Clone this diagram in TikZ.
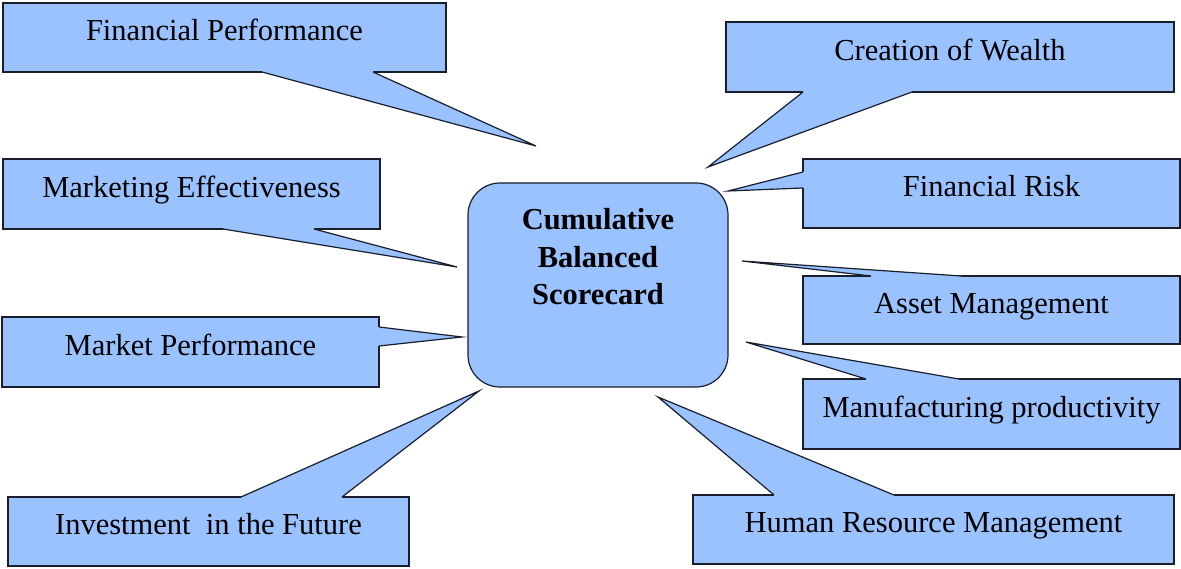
\documentclass[tikz,border=0pt]{standalone}
\usepackage{fontspec}
\setmainfont{Liberation Serif}
\usetikzlibrary{calc}
\definecolor{callblue}{RGB}{153,194,255}
\definecolor{callink}{RGB}{25,30,45}
\tikzset{
	callbox/.style={draw=callink, fill=callblue, line width=1.2pt, inner sep=0pt,
		text height=21.5pt, text depth=15pt, font=\fontsize{30.5}{37.5}\selectfont},
	hubbox/.style={draw=callink, fill=callblue, line width=1.2pt, rounded corners=32pt,
		minimum width=260pt, minimum height=204pt},
	hubtext/.style={align=center, font=\fontsize{30.5}{37.5}\selectfont\bfseries},
	callline/.style={draw=callink, line width=1.2pt, line join=miter},
}
% pointer of a callout: base point, tip, base point, shift into the box
\newcommand{\callptr}[4]{%
	\fill[callblue] ($#1+#4$) -- #1 -- #2 -- #3 -- ($#3+#4$) -- cycle;
	\draw[callline] #1 -- #2 -- #3;}
\begin{document}
\begin{tikzpicture}[x=1pt,y=-1pt]
	\useasboundingbox (0,0) rectangle (1181,569);
	\node[hubbox] (hub) at (598,285) {};
	\node[hubtext] (hublabel) at (598,257) {Cumulative\\Balanced\\Scorecard};
	\node[callbox, minimum width=443pt, minimum height=69pt] (fin) at (224.5,37.5) {Financial Performance};
	\node[callbox, minimum width=377pt, minimum height=70pt] (mkteff) at (191.5,194) {Marketing Effectiveness};
	\node[callbox, minimum width=377pt, minimum height=70pt] (mktperf) at (190.5,352) {Market Performance};
	\node[callbox, minimum width=401pt, minimum height=69pt] (invest) at (208.5,531.5) {Investment\ \ in the Future};
	\node[callbox, minimum width=448pt, minimum height=70pt] (wealth) at (950,57) {Creation of Wealth};
	\node[callbox, minimum width=377pt, minimum height=69pt] (risk) at (991.5,193.5) {Financial Risk};
	\node[callbox, minimum width=377pt, minimum height=68pt] (asset) at (991.5,310) {Asset Management};
	\node[callbox, minimum width=377pt, minimum height=70pt] (manuf) at (991.5,414) {Manufacturing productivity};
	\node[callbox, minimum width=481pt, minimum height=69pt] (hrm) at (933.5,529.5) {Human Resource Management};
	\callptr{(262,72)}{(536,146)}{(373,72)}{(0,-2)}
	\callptr{(223,229)}{(457,267)}{(314,229)}{(0,-2)}
	\callptr{(379,327)}{(462,337)}{(379,346)}{(-2,0)}
	\callptr{(241,497)}{(479,391)}{(342,497)}{(0,2)}
	\callptr{(803,92)}{(708,167)}{(912,92)}{(0,-2)}
	\callptr{(803,172)}{(728,191)}{(803,188)}{(2,0)}
	\callptr{(871,276)}{(742,261)}{(961,276)}{(0,2)}
	\callptr{(866,379)}{(746,342)}{(959,379)}{(0,2)}
	\callptr{(774,495)}{(658,397)}{(894,495)}{(0,2)}
\end{tikzpicture}
\end{document}
